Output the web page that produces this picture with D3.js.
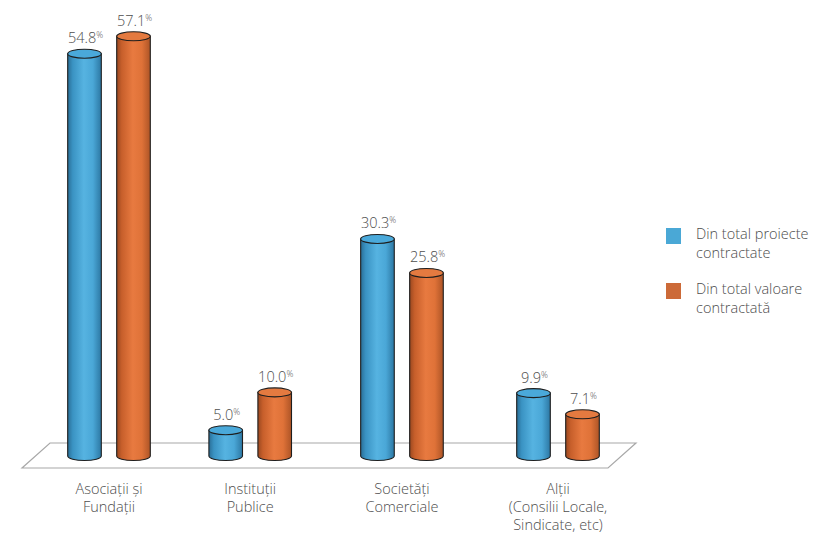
<!DOCTYPE html>
<html>
<head>
<meta charset="utf-8">
<script src="https://cdn.jsdelivr.net/npm/d3@7"></script>
<style>
  html, body { margin: 0; padding: 0; background: #fff; }
  svg { display: block; }
  text { font-family: "Open Sans", "Noto Sans", sans-serif; font-weight: 300; fill: #4d4d4d; }
</style>
</head>
<body>
<svg id="chart" width="814" height="533"></svg>
<script>
// ---- data ----
const categories = [
  ["Asociații și", "Fundații"],
  ["Instituții", "Publice"],
  ["Societăți", "Comerciale"],
  ["Alții", "(Consilii Locale,", "Sindicate, etc)"]
];
const seriesNames = [
  ["Din total proiecte", "contractate"],
  ["Din total valoare", "contractată"]
];
const proiecte = [54.8, 5.0, 30.3, 9.9];
const valoare  = [57.1, 10.0, 25.8, 7.1];
const valueLabels = [
  ["54.8", "5.0", "30.3", "9.9"],
  ["57.1", "10.0", "25.8", "7.1"]
];

// ---- layout ----
const svg = d3.select("#chart");
const series = [proiecte, valoare];
const colors = [
  { stops: ["#2a6e96", "#3a93c3", "#56b3e1", "#4aa7d7", "#2c77a3"], top: "#4aa9da", legend: "#4aa8d6" },
  { stops: ["#9a4820", "#c75f2b", "#e87a40", "#df7238", "#ad5426"], top: "#e47a40", legend: "#cc6a38" }
];

// slight perspective in group spacing
const x = d3.scalePow().exponent(1.053).domain([0, categories.length - 1]).range([109, 558]);
const y = d3.scaleLinear().domain([0, 60]).range([468, 14.4]);
const barOffset = [-24.5, 24.5];
const r = 16.8, ry = 4.5;
const baseY = 456;

// gradients
const defs = svg.append("defs");
colors.forEach((c, i) => {
  const g = defs.append("linearGradient").attr("id", "body" + i)
    .attr("x1", "0%").attr("x2", "100%").attr("y1", "0%").attr("y2", "0%");
  const offs = [0, 0.15, 0.48, 0.75, 1];
  c.stops.forEach((s, k) => g.append("stop").attr("offset", offs[k]).attr("stop-color", s));
});

// floor
const fl = x.range();
const floor = [
  [fl[0] - 59, 443], [fl[1] + 78, 443],
  [fl[1] + 50, y(0)], [fl[0] - 87, y(0)]
];
svg.append("path")
  .attr("d", "M" + floor.map(p => p.join(",")).join("L") + "Z")
  .attr("fill", "#fff").attr("stroke", "#a8a8a8").attr("stroke-width", 1.2);

// bars
series.forEach((vals, si) => {
  const g = svg.append("g");
  vals.forEach((v, ci) => {
    const cx = x(ci) + barOffset[si];
    const yt = y(v);
    g.append("path")
      .attr("d", `M${cx - r},${yt} L${cx - r},${baseY} A${r},${ry} 0 0 0 ${cx + r},${baseY} L${cx + r},${yt} Z`)
      .attr("fill", `url(#body${si})`)
      .attr("stroke", "#1e1e1e").attr("stroke-width", 1.1);
    g.append("ellipse")
      .attr("cx", cx).attr("cy", yt).attr("rx", r).attr("ry", ry)
      .attr("fill", colors[si].top)
      .attr("stroke", "#1e1e1e").attr("stroke-width", 1.1);
    const t = g.append("text")
      .attr("x", cx + 1).attr("y", yt - ry - 6)
      .attr("text-anchor", "middle")
      .attr("font-size", 14.5);
    t.append("tspan").text(valueLabels[si][ci]);
    t.append("tspan").attr("font-size", 8.5).attr("dy", -5).text("%");
  });
});

// category labels (one text per line)
categories.forEach((lines, ci) => {
  lines.forEach((l, k) => svg.append("text")
    .attr("x", x(ci)).attr("y", 494 + k * 18)
    .attr("text-anchor", "middle").attr("font-size", 14.5)
    .text(l));
});

// legend
seriesNames.forEach((lines, si) => {
  const ly = 228 + si * 55;
  svg.append("rect").attr("x", 666).attr("y", ly).attr("width", 15).attr("height", 16)
    .attr("fill", colors[si].legend);
  lines.forEach((l, k) => svg.append("text")
    .attr("x", 696).attr("y", ly + 11 + k * 19)
    .attr("font-size", 14.5)
    .text(l));
});
</script>
</body>
</html>
